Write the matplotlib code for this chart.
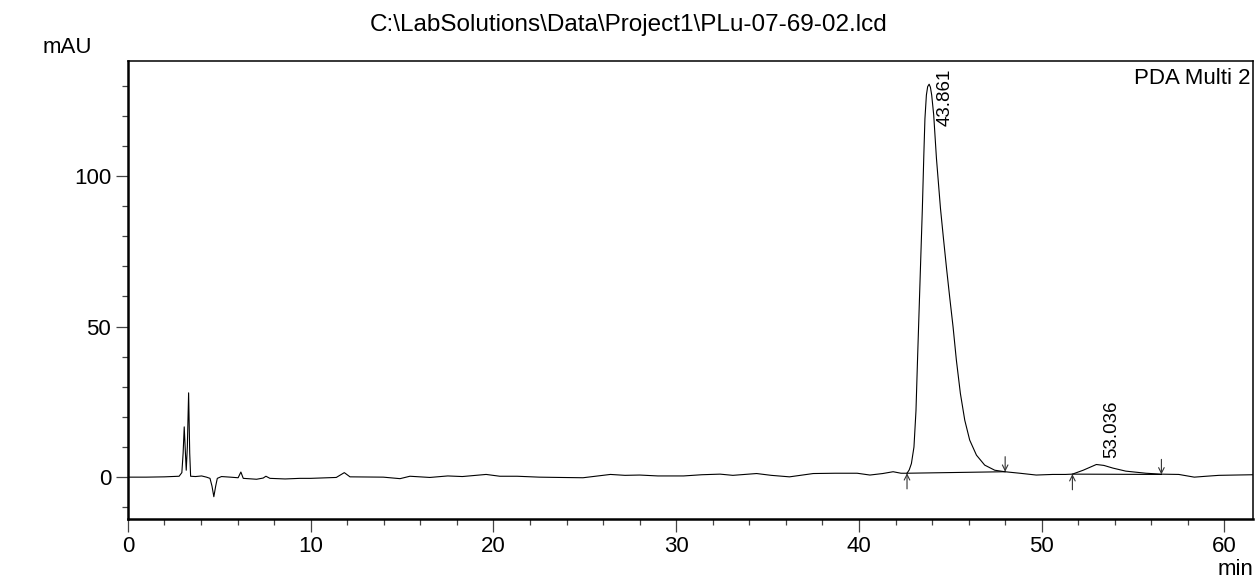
import matplotlib
matplotlib.use("Agg")
import matplotlib.pyplot as plt
from matplotlib.ticker import MultipleLocator

plt.rcParams["font.family"] = ["Liberation Sans", "DejaVu Sans"]

# ================== DATA ==================
title = r"C:\LabSolutions\Data\Project1\PLu-07-69-02.lcd"
channel = "PDA Multi 2"

time_min = [
    0.0, 1.0, 2.0, 2.8, 2.95, 3.02, 3.08, 3.13, 3.19, 3.25, 3.32, 3.38, 3.43,
    3.7, 4.03, 4.3, 4.49, 4.6, 4.7, 4.8, 4.89, 5.12, 5.6, 6.03, 6.18, 6.31,
    7.04, 7.4, 7.55, 7.77, 8.6, 9.41, 10.0, 11.4, 11.84, 12.15, 13.97, 14.89,
    15.43, 16.52, 17.5, 18.3, 19.6, 20.35, 21.3, 22.5, 23.6, 24.9, 26.4, 27.2,
    28.0, 29.0, 30.4, 31.4, 32.4, 33.1, 34.4, 35.2, 36.2, 37.5, 38.7, 39.9,
    40.6, 41.3, 41.87, 42.3, 42.63, 42.75, 42.87, 43.01, 43.12, 43.2, 43.36,
    43.47, 43.55, 43.61, 43.69, 43.76, 43.84, 43.91, 43.98, 44.09, 44.24,
    44.46, 44.62, 44.79, 44.97, 45.15, 45.33, 45.55, 45.79, 46.06, 46.43,
    46.88, 47.43, 47.98, 48.8, 49.7, 50.6, 51.3, 51.68, 52.27, 52.99,
    53.4, 53.9, 54.6, 55.7, 56.5, 57.5, 58.35, 59.0, 59.7, 60.6, 61.56,
]
signal_mau = [
    0.0, 0.0, 0.1, 0.3, 1.5, 8.0, 16.7, 10.0, 2.3, 10.0, 28.0, 8.0, 0.3,
    0.2, 0.4, 0.0, -0.4, -3.0, -6.5, -3.0, -0.4, 0.2, 0.0, -0.2, 1.7, -0.4,
    -0.7, -0.3, 0.3, -0.4, -0.6, -0.4, -0.4, -0.1, 1.5, 0.1, 0.0, -0.5,
    0.3, -0.1, 0.4, 0.2, 0.9, 0.3, 0.3, 0.0, -0.1, -0.2, 0.9, 0.6,
    0.7, 0.4, 0.4, 0.8, 1.0, 0.6, 1.2, 0.6, 0.1, 1.2, 1.3, 1.3,
    0.7, 1.2, 1.8, 1.3, 1.3, 2.4, 4.5, 10.0, 22.0, 38.0, 68.5,
    89.3, 107.0, 119.0, 126.9, 129.7, 130.5, 129.5, 126.9, 120.3, 105.9,
    89.3, 79.5, 69.5, 59.5, 49.9, 38.9, 27.8, 18.9, 12.3, 7.3,
    4.0, 2.3, 1.8, 1.3, 0.7, 0.9, 0.9, 1.0, 2.3, 4.2,
    3.9, 3.0, 2.0, 1.3, 1.0, 0.9, 0.0, 0.3, 0.6, 0.7, 0.8,
]

# integration baselines and peak labels
peak_labels = ["43.861", "53.036"]
label_x = [44.69, 53.83]
label_y = [116.5, 6.3]
base_start_t = [42.63, 51.68]
base_start_y = [1.3, 1.0]
base_end_t = [48.0, 56.55]
base_end_y = [1.8, 0.9]

# ================== FIGURE ==================
fig = plt.figure(figsize=(12.58, 5.84), dpi=100)
ax = fig.add_axes([0.1017, 0.1113, 0.8943, 0.7842])

ax.plot(time_min, signal_mau, color="black", lw=0.8, zorder=3)

for t0, y0, t1, y1 in zip(base_start_t, base_start_y, base_end_t, base_end_y):
    ax.plot([t0, t1], [y0, y1], color="black", lw=0.8, zorder=2)
    # start marker: arrow pointing up from below
    ax.annotate("", xy=(t0, y0), xytext=(t0, y0 - 5.2),
                arrowprops=dict(arrowstyle="->", color="#333333", lw=0.8,
                                mutation_scale=10, shrinkA=0, shrinkB=0))
    # end marker: arrow pointing down from above
    ax.annotate("", xy=(t1, y1), xytext=(t1, y1 + 5.0),
                arrowprops=dict(arrowstyle="->", color="#333333", lw=0.8,
                                mutation_scale=10, shrinkA=0, shrinkB=0))

for lab, lx, ly in zip(peak_labels, label_x, label_y):
    ax.text(lx, ly, lab, rotation=90, ha="center", va="bottom",
            fontsize=13.5, color="black")

ax.text(0.998, 0.985, channel, transform=ax.transAxes, ha="right", va="top",
        fontsize=16)

ax.set_xlim(0, 61.56)
ax.set_ylim(-13.9, 138.2)

ax.xaxis.set_major_locator(MultipleLocator(10))
ax.xaxis.set_minor_locator(MultipleLocator(2))
ax.yaxis.set_major_locator(MultipleLocator(50))
ax.yaxis.set_minor_locator(MultipleLocator(10))

ax.tick_params(axis="both", which="major", direction="out", length=9,
               width=0.9, color="#444444", labelsize=16, pad=3)
ax.tick_params(axis="both", which="minor", direction="out", length=4.5,
               width=0.9, color="#444444")

for side in ["left", "bottom"]:
    ax.spines[side].set_linewidth(1.8)
for side in ["top", "right"]:
    ax.spines[side].set_linewidth(1.1)

fig.text(0.5, 0.958, title, ha="center", va="center", fontsize=17.5)
fig.text(0.034, 0.919, "mAU", ha="left", va="center", fontsize=16)
fig.text(0.982, 0.024, "min", ha="center", va="center", fontsize=16)

fig.savefig("out.png", dpi=100)
